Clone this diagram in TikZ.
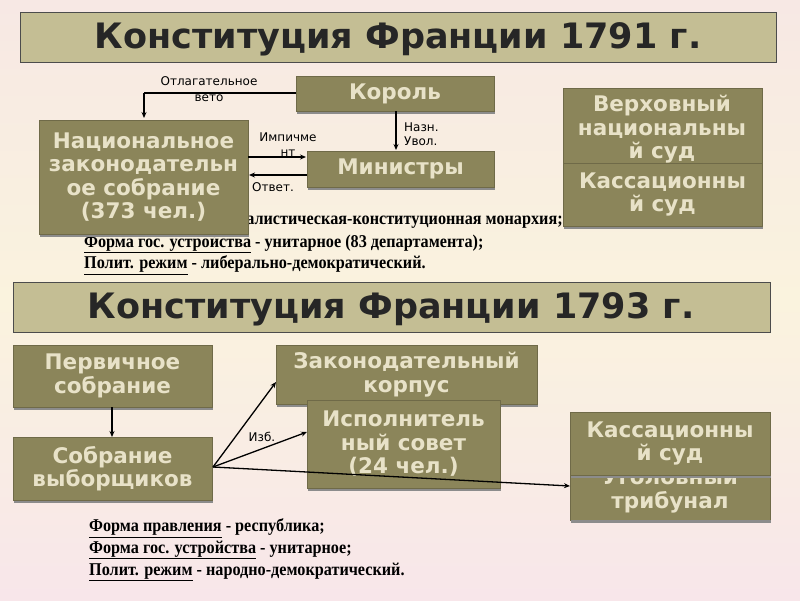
\documentclass[tikz,border=0pt]{standalone}
\usepackage{fontspec}
\setmainfont{Liberation Serif}
\newfontfamily\boxfont{DejaVu Sans}
\newfontfamily\condserif[FakeStretch=0.9]{Liberation Serif}
\usetikzlibrary{arrows.meta}
\definecolor{olive}{RGB}{139,133,90}
\definecolor{boxtxt}{RGB}{232,226,200}
\definecolor{titlefill}{RGB}{196,190,148}
\definecolor{bgtop}{RGB}{247,232,228}
\definecolor{bgmid}{RGB}{250,243,222}
\definecolor{bgbot}{RGB}{248,230,234}
\tikzset{
  obox/.style={fill=olive,draw=olive!80!black,line width=0.6pt},
  otext/.style={font=\boxfont\bfseries\fontsize{21.5}{23.5}\selectfont,text=boxtxt,align=center,inner sep=0pt},
  ttl/.style={fill=titlefill,draw=black!70,line width=0.6pt},
  ttltext/.style={font=\boxfont\bfseries\fontsize{35}{40}\selectfont,text=black!85},
  lbl/.style={font=\boxfont\fontsize{12}{14}\selectfont,inner sep=0pt,align=center},
  info/.style={font=\condserif\bfseries\fontsize{18}{20}\selectfont,anchor=west,inner sep=0pt},
  arr/.style={line width=1.3pt,-{Stealth[length=6pt,width=5pt]}}
}
\newcommand{\obx}[6]{% name, x1,y1,x2,y2, text
  \begin{scope}
    \fill[black!45] (#2+1,#5) rectangle (#4+1,#5+2.5);
    \path[obox] (#2,#3) rectangle (#4,#5);
    \clip (#2,#3) rectangle (#4,#5);
    \node[otext] (#1) at ({(#2+#4)/2},{(#3+#5)/2}) {#6};
  \end{scope}
  \coordinate (#1-nw) at (#2,#3);
}
\begin{document}
\begin{tikzpicture}[x=1pt,y=-1pt]
\shade[top color=bgtop,bottom color=bgmid] (0,0) rectangle (800,300);
\shade[top color=bgmid,bottom color=bgbot] (0,300) rectangle (800,600);
\useasboundingbox (0,0) rectangle (800,600);

% title 1
\path[ttl] (20,12) rectangle (776,62);
\node[ttltext] (t1) at (398,39) {Конституция Франции 1791 г.};

% info text 1791
\node[info] (i1) at (84,222) {\underline{Форма правления} - дуалистическая-конституционная монархия;};
\node[info] (i2) at (84,244) {\underline{Форма гос. устройства} - унитарное (83 департамента);};
\node[info] (i3) at (84,265) {\underline{Полит. режим} - либерально-демократический.};

\obx{korol}{296}{76}{494}{111}{Король}
\obx{nas}{39}{120}{248}{234}{Национальное\\законодательн\\ое собрание\\(373 чел.)}
\obx{min}{307}{151}{494}{187}{Министры}
\begin{scope}
\path[obox] (563,88) rectangle (762,163);
\clip (563,88) rectangle (762,163);
\node[otext,anchor=north] (vs) at (662,95) {Верховный\\национальны\\й суд};
\end{scope}
\obx{kas1}{563}{163}{762}{226}{Кассационны\\й суд}

\coordinate (vc) at (144,93);
\draw[line width=1.3pt] (296,93) -- (vc);
\draw[arr] (vc) -- (144,118);
\node[lbl] (l1) at (209,81) {Отлагательное};
\node[lbl] (l2) at (209,98) {вето};
\draw[arr] (396,111) -- (396,150);
\node[lbl,align=left,anchor=west] (l3) at (404,134) {Назн.\\Увол.};
\draw[arr] (248,157) -- (306,157);
\node[lbl] (l4) at (288,137) {Импичме};
\node[lbl] (l5) at (288,153) {нт};
\draw[arr] (307,175) -- (249,175);
\node[lbl] (l6) at (273,187) {Ответ.};

% title 2
\path[ttl] (13,282) rectangle (770,332);
\node[ttltext] (t2) at (391,309) {Конституция Франции 1793 г.};

\obx{perv}{13}{345}{212}{407}{Первичное\\собрание}
\obx{vyb}{13}{437}{212}{500}{Собрание\\выборщиков}
\obx{zak}{276}{345}{537}{404}{Законодательный\\корпус}
\obx{isp}{307}{400}{500}{488}{Исполнитель\\ный совет\\(24 чел.)}
\begin{scope}
\path[obox] (570,475) rectangle (770,520);
\clip (570,475) rectangle (770,520);
\node[otext,anchor=south] (ug) at (670,513) {Уголовный\\трибунал};
\end{scope}
\fill[black!45] (571,520) rectangle (771,522.5);
\obx{kas2}{570}{412}{770}{475}{Кассационны\\й суд}

\coordinate (src) at (213,467);
\draw[arr] (112,407) -- (112,437);
\draw[arr] (src) -- (276,382);
\draw[arr] (src) -- (307,432);
\draw[arr] (src) -- (570,486);
\node[lbl] (l7) at (262,437) {Изб.};

\node[info] (j1) at (89,528) {\underline{Форма правления} - республика;};
\node[info] (j2) at (89,550) {\underline{Форма гос. устройства} - унитарное;};
\node[info] (j3) at (89,572) {\underline{Полит. режим} - народно-демократический.};
\end{tikzpicture}
\end{document}
